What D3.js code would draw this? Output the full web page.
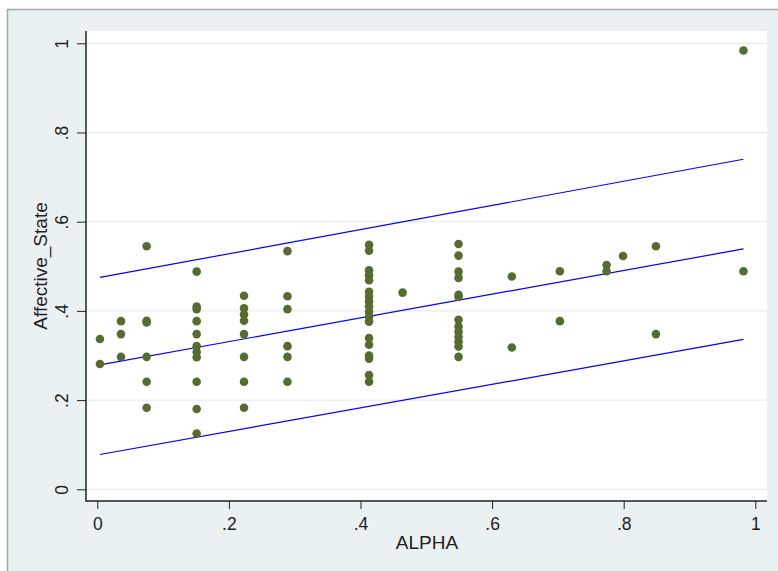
<!DOCTYPE html>
<html>
<head>
    <meta charset="utf-8">
    <style>
        body { margin: 0; background: #fff; }
        text { font-family: "Liberation Sans", Arial, sans-serif; fill: #222; }
    </style>
</head>
<body>
    <div id="graph"></div>
    <script src="https://d3js.org/d3.v7.min.js"></script>
    <script>
        // Datos (ALPHA vs Affective_State)
        const alpha = [
            0.004, 0.004,
            0.036, 0.036, 0.036,
            0.075, 0.075, 0.075, 0.075, 0.075, 0.075,
            0.151, 0.151, 0.151, 0.151, 0.151, 0.151, 0.151, 0.151, 0.151, 0.151, 0.151,
            0.223, 0.223, 0.223, 0.223, 0.223, 0.223, 0.223, 0.223,
            0.289, 0.289, 0.289, 0.289, 0.289, 0.289,
            0.413, 0.413, 0.413, 0.413, 0.413, 0.413, 0.413, 0.413, 0.413, 0.413,
            0.413, 0.413, 0.413, 0.413, 0.413, 0.413, 0.413, 0.413,
            0.464,
            0.549, 0.549, 0.549, 0.549, 0.549, 0.549, 0.549, 0.549, 0.549, 0.549,
            0.549, 0.549, 0.549,
            0.630, 0.630,
            0.703, 0.703,
            0.774, 0.774,
            0.799,
            0.849, 0.849,
            0.982, 0.982
        ];
        const affect = [
            0.337, 0.281,
            0.377, 0.348, 0.297,
            0.545, 0.378, 0.374, 0.297, 0.241, 0.183,
            0.488, 0.410, 0.404, 0.377, 0.348, 0.321, 0.308, 0.296, 0.241, 0.180, 0.125,
            0.434, 0.406, 0.392, 0.378, 0.348, 0.297, 0.241, 0.183,
            0.534, 0.433, 0.404, 0.321, 0.297, 0.241,
            0.548, 0.535, 0.491, 0.480, 0.469, 0.443, 0.432, 0.421, 0.410, 0.398,
            0.387, 0.376, 0.339, 0.324, 0.300, 0.293, 0.256, 0.241,
            0.441,
            0.550, 0.524, 0.488, 0.474, 0.436, 0.431, 0.380, 0.365, 0.353, 0.342,
            0.331, 0.320, 0.297,
            0.477, 0.318,
            0.489, 0.377,
            0.503, 0.489,
            0.523,
            0.545, 0.348,
            0.984, 0.489
        ];
        // Recta ajustada e intervalo de predicción
        const fitX = [0.004, 0.982];
        const fitY = [0.279, 0.539];
        const upperY = [0.475, 0.740];
        const lowerY = [0.078, 0.336];

        const xTicks = [0, 0.2, 0.4, 0.6, 0.8, 1];
        const yTicks = [0, 0.2, 0.4, 0.6, 0.8, 1];
        const fmt = d => d === 0 ? "0" : d === 1 ? "1" : String(d).replace(/^0/, "");

        const WIDTH = 778, HEIGHT = 571;
        // caja del área de trazado
        const BOX = { left: 86, right: 767, top: 31, bottom: 501 };

        const xScale = d3.scaleLinear().domain([0, 1]).range([97.3, 755.3]);
        const yScale = d3.scaleLinear().domain([0, 1]).range([489.3, 43.3]);

        const svg = d3.select("#graph")
            .append("svg")
            .attr("width", WIDTH)
            .attr("height", HEIGHT);

        // fondo y borde
        svg.append("rect").attr("x", 7).attr("y", 9)
            .attr("width", WIDTH - 7).attr("height", HEIGHT - 9)
            .attr("fill", "#eaf1f3");
        svg.append("path")
            .attr("d", `M7.5,${HEIGHT} V9.5 H${WIDTH}`)
            .attr("fill", "none").attr("stroke", "#a6a6a6").attr("stroke-width", 1.5);

        svg.append("rect")
            .attr("x", BOX.left).attr("y", BOX.top)
            .attr("width", BOX.right - BOX.left).attr("height", BOX.bottom - BOX.top)
            .attr("fill", "#fff");

        // rejilla horizontal
        svg.append("g").selectAll("line")
            .data(yTicks)
            .join("line")
            .attr("x1", BOX.left).attr("x2", BOX.right)
            .attr("y1", d => yScale(d)).attr("y2", d => yScale(d))
            .attr("stroke", "#e6eef0").attr("stroke-width", 1.3);

        // ejes
        const yAxis = svg.append("g")
            .attr("transform", `translate(${BOX.left},0)`)
            .call(d3.axisLeft(yScale).tickValues(yTicks).tickFormat(fmt).tickSize(9).tickSizeOuter(0));
        yAxis.select(".domain").remove();
        yAxis.selectAll(".tick line").attr("stroke", "#222");
        yAxis.selectAll(".tick text")
            .attr("x", null).attr("dy", null)
            .attr("text-anchor", "middle")
            .attr("transform", "translate(-18,0) rotate(-90)")
            .style("font-size", "17.5px");

        const xAxis = svg.append("g")
            .attr("transform", `translate(0,${BOX.bottom})`)
            .call(d3.axisBottom(xScale).tickValues(xTicks).tickFormat(fmt).tickSize(8).tickSizeOuter(0));
        xAxis.select(".domain").remove();
        xAxis.selectAll(".tick line").attr("stroke", "#222");
        xAxis.selectAll(".tick text")
            .attr("y", 29).attr("dy", null)
            .style("font-size", "17.5px");

        svg.append("path")
            .attr("d", `M${BOX.left},${BOX.top} V${BOX.bottom} H${BOX.right}`)
            .attr("fill", "none").attr("stroke", "#222").attr("stroke-width", 1.5);

        // títulos de ejes
        svg.append("text")
            .attr("transform", `translate(47,${(BOX.top + BOX.bottom) / 2}) rotate(-90)`)
            .attr("text-anchor", "middle")
            .style("font-size", "19px")
            .text("Affective_State");
        svg.append("text")
            .attr("x", 427).attr("y", 549)
            .attr("text-anchor", "middle")
            .style("font-size", "19px")
            .text("ALPHA");

        // líneas ajustadas
        const line = d3.line().x(d => xScale(d[0])).y(d => yScale(d[1]));
        [upperY, fitY, lowerY].forEach(ys => {
            svg.append("path")
                .datum(fitX.map((x, i) => [x, ys[i]]))
                .attr("d", line)
                .attr("fill", "none")
                .attr("stroke", "#0000ff")
                .attr("stroke-width", 1.2);
        });

        // puntos
        svg.append("g").selectAll("circle")
            .data(alpha.map((a, i) => ({ x: a, y: affect[i] })))
            .join("circle")
            .attr("cx", d => xScale(d.x))
            .attr("cy", d => yScale(d.y))
            .attr("r", 4.3)
            .attr("fill", "#556b2f");
    </script>
</body>
</html>
